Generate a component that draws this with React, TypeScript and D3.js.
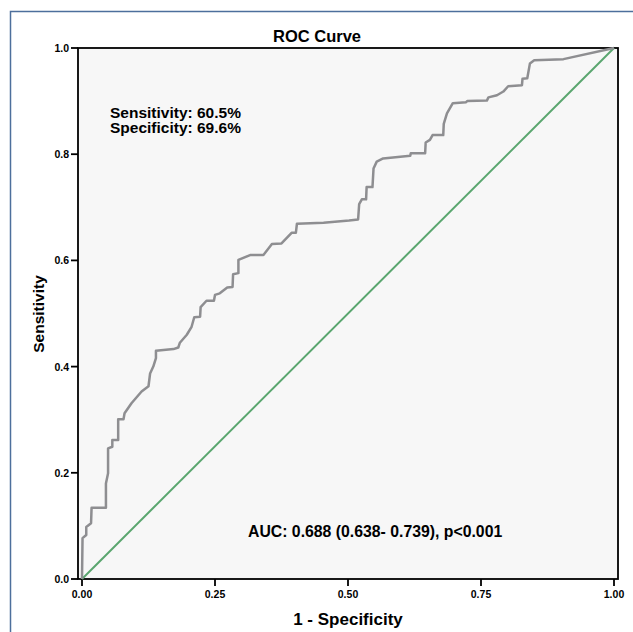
import React, { useEffect, useRef } from 'react';
import * as d3 from 'd3';

// ROC points: false positive rate (1 - specificity) and sensitivity
const fpr = [
  0, 0.001, 0.008, 0.008, 0.017, 0.018, 0.045, 0.045, 0.049, 0.049, 0.057, 0.057,
  0.068, 0.068, 0.078, 0.08, 0.093, 0.112, 0.125, 0.128, 0.134, 0.139, 0.139, 0.172,
  0.181, 0.184, 0.197, 0.206, 0.211, 0.222, 0.223, 0.234, 0.248, 0.25, 0.259, 0.273,
  0.283, 0.284, 0.294, 0.294, 0.316, 0.341, 0.357, 0.375, 0.394, 0.402, 0.404, 0.454,
  0.502, 0.519, 0.521, 0.526, 0.534, 0.535, 0.546, 0.548, 0.554, 0.566, 0.617, 0.618,
  0.645, 0.646, 0.654, 0.659, 0.679, 0.68, 0.686, 0.697, 0.722, 0.724, 0.761, 0.764,
  0.78, 0.792, 0.801, 0.827, 0.828, 0.837, 0.842, 0.85, 0.905, 1,
];
const tpr = [
  0, 0.077, 0.083, 0.098, 0.105, 0.134, 0.134, 0.18, 0.199, 0.246, 0.249, 0.262,
  0.262, 0.301, 0.301, 0.312, 0.331, 0.353, 0.363, 0.387, 0.4, 0.416, 0.43, 0.433,
  0.436, 0.445, 0.46, 0.475, 0.493, 0.494, 0.512, 0.524, 0.524, 0.535, 0.538, 0.549,
  0.55, 0.574, 0.576, 0.601, 0.61, 0.61, 0.631, 0.632, 0.652, 0.652, 0.669, 0.671,
  0.675, 0.677, 0.706, 0.715, 0.715, 0.738, 0.738, 0.773, 0.786, 0.792, 0.797, 0.802,
  0.802, 0.822, 0.827, 0.836, 0.836, 0.857, 0.877, 0.896, 0.898, 0.9, 0.901, 0.907,
  0.911, 0.918, 0.928, 0.93, 0.942, 0.943, 0.971, 0.977, 0.979, 1,
];
const yTicks = [0, 0.2, 0.4, 0.6, 0.8, 1.0];
const xTicks = [0, 0.25, 0.5, 0.75, 1.0];
const notes = ['Sensitivity: 60.5%', 'Specificity: 69.6%'];
const aucText = 'AUC: 0.688 (0.638- 0.739), p<0.001';

const FONT = '"Liberation Sans", Arial, Helvetica, sans-serif';

const App = () => {
  const ref = useRef<SVGSVGElement | null>(null);

  useEffect(() => {
    if (!ref.current) return;
    const svg = d3.select(ref.current);
    svg.selectAll('*').remove();

    // outer frame of the output pane
    svg
      .append('rect')
      .attr('x', 10.5)
      .attr('y', 11.5)
      .attr('width', 700)
      .attr('height', 700)
      .attr('fill', 'none')
      .attr('stroke', '#4d6f9c')
      .attr('stroke-width', 1.5);

    const x = d3.scaleLinear().domain([0, 1]).range([82, 614]);
    const y = d3.scaleLinear().domain([0, 1]).range([579, 48]);

    // plot box
    svg
      .append('rect')
      .attr('x', 78)
      .attr('y', 48)
      .attr('width', 540)
      .attr('height', 531)
      .attr('fill', '#f7f7f7')
      .attr('stroke', '#000')
      .attr('stroke-width', 1.8);

    // y axis ticks
    const yg = svg.append('g').attr('font-family', FONT).attr('font-weight', 'bold').attr('font-size', 10.5);
    yTicks.forEach((t) => {
      yg.append('line')
        .attr('x1', 71)
        .attr('x2', 78)
        .attr('y1', y(t))
        .attr('y2', y(t))
        .attr('stroke', '#000')
        .attr('stroke-width', 1.8);
      yg.append('text')
        .attr('x', 69)
        .attr('y', y(t) + 4)
        .attr('text-anchor', 'end')
        .text(d3.format('.1f')(t));
    });

    // x axis ticks
    const xg = svg.append('g').attr('font-family', FONT).attr('font-weight', 'bold').attr('font-size', 10.5);
    xTicks.forEach((t) => {
      xg.append('line')
        .attr('x1', x(t))
        .attr('x2', x(t))
        .attr('y1', 579)
        .attr('y2', 586)
        .attr('stroke', '#000')
        .attr('stroke-width', 1.8);
      xg.append('text')
        .attr('x', x(t))
        .attr('y', 598)
        .attr('text-anchor', 'middle')
        .text(d3.format('.2f')(t));
    });

    // reference diagonal
    svg
      .append('line')
      .attr('x1', x(0))
      .attr('y1', y(0))
      .attr('x2', x(1))
      .attr('y2', y(1))
      .attr('stroke', '#5aa66f')
      .attr('stroke-width', 2);

    // ROC curve
    const pts: [number, number][] = fpr.map((f, i) => [f, tpr[i]]);
    const line = d3
      .line<[number, number]>()
      .x((d) => x(d[0]))
      .y((d) => y(d[1]));
    svg
      .append('path')
      .attr('d', line(pts))
      .attr('fill', 'none')
      .attr('stroke', '#8e8e91')
      .attr('stroke-width', 2.5)
      .attr('stroke-linejoin', 'round');

    const txt = svg.append('g').attr('font-family', FONT).attr('font-weight', 'bold');

    txt.append('text').attr('x', 317).attr('y', 42).attr('text-anchor', 'middle').attr('font-size', 16.5).text('ROC Curve');

    notes.forEach((n, i) => {
      txt.append('text').attr('x', 110).attr('y', 118 + i * 15).attr('font-size', 15.5).text(n);
    });

    txt.append('text').attr('x', 248).attr('y', 537).attr('font-size', 15.8).text(aucText);

    txt
      .append('text')
      .attr('x', 348)
      .attr('y', 625)
      .attr('text-anchor', 'middle')
      .attr('font-size', 17)
      .text('1 - Specificity');

    txt
      .append('text')
      .attr('transform', 'translate(44,314) rotate(-90)')
      .attr('text-anchor', 'middle')
      .attr('font-size', 15.5)
      .text('Sensitivity');
  }, []);

  return (
    <div style={{ position: 'fixed', left: 0, top: 0 }}>
      <svg ref={ref} width={633} height={632} style={{ display: 'block', background: '#fff' }} />
    </div>
  );
};

export default App;
